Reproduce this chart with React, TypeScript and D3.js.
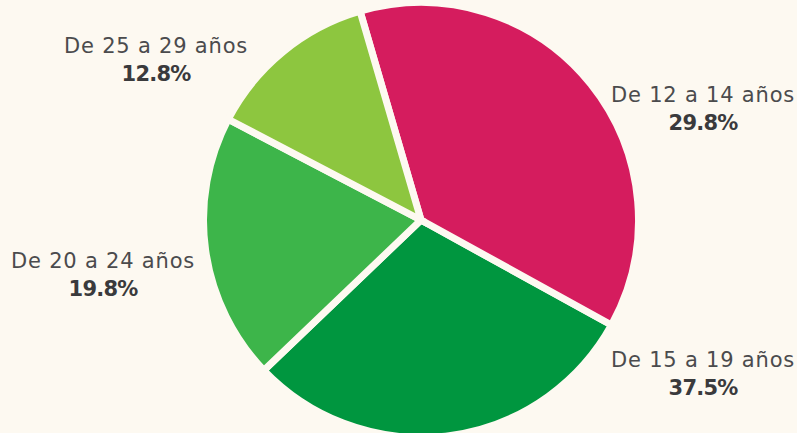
import React, { useEffect, useRef } from "react";
import * as d3 from "d3";

// age groups and their share of the total (%)
const ageGroups = ["De 12 a 14 años", "De 15 a 19 años", "De 20 a 24 años", "De 25 a 29 años"];
const shares = [29.8, 37.5, 19.8, 12.8];
const sliceColors = ["#00963f", "#d51c5e", "#3db54a", "#8dc63f"];

const width = 797;
const height = 433;
const bg = "#fdf9f1";

// where each label block sits (centre x, first baseline)
const labelAnchors: [number, number][] = [
  [703, 102],
  [703, 367],
  [103, 268],
  [156, 53],
];

const App = () => {
  const ref = useRef<SVGSVGElement>(null);

  useEffect(() => {
    const svg = d3.select(ref.current);
    svg.selectAll("*").remove();

    const cx = 421;
    const cy = 220;
    const radius = 217.5;
    const start = -0.284;

    // pie over the indices so d.data is the row; default sort = descending by value
    const pie = d3
      .pie<number>()
      .value((i) => shares[i])
      .startAngle(start)
      .endAngle(start + Math.PI * 2);

    const arc = d3.arc<d3.PieArcDatum<number>>().innerRadius(0).outerRadius(radius);

    const g = svg.append("g").attr("transform", `translate(${cx},${cy})`);

    g.selectAll("path")
      .data(pie(d3.range(shares.length)))
      .join("path")
      .attr("d", arc)
      .attr("fill", (d) => sliceColors[d.data])
      .attr("stroke", bg)
      .attr("stroke-width", 7)
      .attr("stroke-linejoin", "miter");

    const fmt = d3.format(".1f");

    const labels = svg
      .selectAll("g.label")
      .data(ageGroups)
      .join("g")
      .attr("class", "label")
      .attr("transform", (d, i) => `translate(${labelAnchors[i][0]},${labelAnchors[i][1]})`);

    labels
      .append("text")
      .attr("text-anchor", "middle")
      .attr("font-family", "DejaVu Sans")
      .attr("font-size", 21)
      .attr("letter-spacing", 0.8)
      .attr("fill", "#4b4b4d")
      .text((d) => d);

    labels
      .append("text")
      .attr("text-anchor", "middle")
      .attr("y", 28)
      .attr("font-family", "DejaVu Sans")
      .attr("font-weight", "bold")
      .attr("font-size", 21)
      .attr("letter-spacing", -0.8)
      .attr("fill", "#3a3a3c")
      .text((d, i) => fmt(shares[i]) + "%");
  }, []);

  return (
    <svg
      ref={ref}
      width={width}
      height={height}
      style={{ position: "fixed", left: 0, top: 0, background: bg, display: "block" }}
    ></svg>
  );
};

export default App;
